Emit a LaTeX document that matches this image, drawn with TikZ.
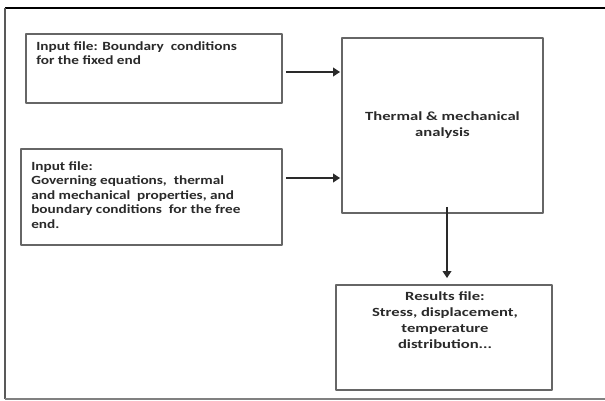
\documentclass[tikz,border=0pt]{standalone}
\usepackage{fontspec}
\usetikzlibrary{arrows.meta}
\newfontfamily\diagfont{Carlito}[FakeStretch=1.33]
\newfontfamily\inputfont{Carlito}[FakeStretch=1.22]
\definecolor{boxgray}{HTML}{666666}
\definecolor{inkdark}{HTML}{2A2A2A}

\begin{document}
\begin{tikzpicture}[
  x=1pt,
  y=-1pt,
  line join=round,
  inbox/.style={draw=boxgray,line width=1.8pt,fill=white,inner sep=0pt},
  boxtext/.style={inner sep=0pt,text=inkdark,font=\inputfont\bfseries\fontsize{12.5}{14.5}\selectfont},
  midtext/.style={inner sep=0pt,text=inkdark,align=center,font=\diagfont\bfseries\fontsize{12.5}{16}\selectfont},
  flow/.style={draw=inkdark,line width=2.6pt,-{Triangle[length=7pt,width=8.5pt]}},
  frameline/.style={line width=2.6pt}
]
  \useasboundingbox (0,0) rectangle (605,401);

  % Page frame (no right edge visible).
  \coordinate (ftl) at (5,8);
  \coordinate (ftr) at (605,8);
  \coordinate (fbl) at (5,399);
  \coordinate (fbr) at (605,399);
  \draw[frameline,draw=black] (ftl) -- (ftr);
  \draw[frameline,draw=black!65] (ftl) -- (fbl);
  \draw[frameline,draw=black!50,line width=2pt] (fbl) -- (fbr);

  % The four boxes.
  \node[inbox,minimum width=256,minimum height=69] (fixedend) at (154,68.5) {};
  \node[inbox,minimum width=261,minimum height=96] (freeend) at (151.5,197) {};
  \node[inbox,minimum width=201,minimum height=175,midtext] (analysis) at (442.5,125.5)
    {Thermal \& mechanical\\analysis};
  \node[inbox,minimum width=216,minimum height=105] (results) at (444,337.5) {};

  % Box texts, set at the top of their boxes.
  \node[boxtext,anchor=north west,align=left] (fixedtext) at ([shift={(11,8)}]fixedend.north west)
    {Input file: Boundary\ \ conditions\\for the fixed end};
  \node[boxtext,anchor=north west,align=left] (freetext) at ([shift={(11,13)}]freeend.north west)
    {Input file:\\Governing equations,\ \ thermal\\and mechanical\ \ properties, and\\boundary conditions\ \ for the free\\end.};
  \node[midtext,anchor=north] (resultstext) at ([shift={(1,7)}]results.north)
    {Results file:\\Stress, displacement,\\temperature\\distribution...};

  % Connectors.
  \draw[flow] ([shift={(3,3.5)}]fixedend.east) -- ([shift={(-1,3.5)}]fixedend.east -| analysis.west);
  \draw[flow] ([shift={(3,-19)}]freeend.east) -- ([shift={(-1,-19)}]freeend.east -| analysis.west);
  \draw[flow] ([shift={(4.5,-7)}]analysis.south) -- ([shift={(4.5,-6)}]analysis.south |- results.north);
\end{tikzpicture}
\end{document}
